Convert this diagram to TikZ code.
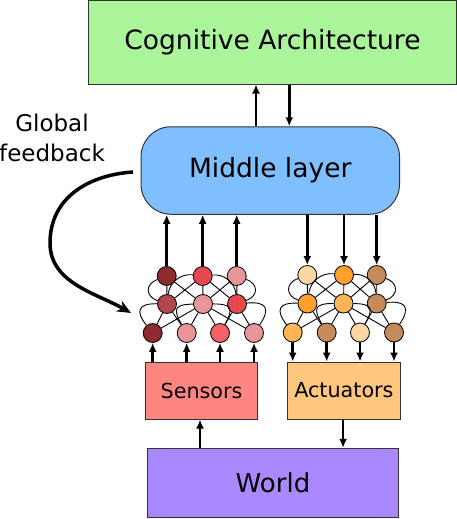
\documentclass[tikz,border=0pt]{standalone}
\usepackage{fontspec}
\setmainfont{DejaVu Sans}
\usetikzlibrary{arrows.meta}
\definecolor{cogfill}{RGB}{170,245,153}
\definecolor{midfill}{RGB}{128,191,255}
\definecolor{sensfill}{RGB}{255,134,128}
\definecolor{actfill}{RGB}{255,198,128}
\definecolor{worldfill}{RGB}{170,136,255}
\definecolor{redA}{RGB}{141,43,47}
\definecolor{redB}{RGB}{178,72,76}
\definecolor{redC}{RGB}{229,72,77}
\definecolor{redD}{RGB}{232,150,154}
\definecolor{redE}{RGB}{246,96,104}
\definecolor{orA}{RGB}{253,214,166}
\definecolor{orB}{RGB}{255,160,44}
\definecolor{orC}{RGB}{198,139,90}
\definecolor{orD}{RGB}{253,181,88}
\tikzstyle{block}=[draw=black!80, line width=1pt, inner sep=0pt]
\tikzstyle{neuron}=[circle, draw, line width=0.8pt, minimum size=19pt, inner sep=0pt]
\tikzstyle{link}=[-{Latex[length=9pt,width=8pt]}, line width=2.8pt]
\tikzstyle{wire}=[line width=0.9pt]

\begin{document}
\begin{tikzpicture}[x=1pt, y=-1pt]
\useasboundingbox (0,0) rectangle (457,519);
% boxes
\draw (272.5,42.25) node[block, fill=cogfill, minimum width=368pt, minimum height=83.5pt, font=\fontsize{26.5}{30}\selectfont] (cog) {Cognitive Architecture};
\draw (270.25,170.5) node[block, fill=midfill, rounded corners=30pt, minimum width=258.5pt, minimum height=87.5pt, font=\fontsize{26.5}{30}\selectfont] (mid) {Middle layer};
\draw (201.5,390.5) node[block, fill=sensfill, minimum width=112.4pt, minimum height=57pt, font=\fontsize{20.7}{24}\selectfont] (sens) {Sensors};
\draw (343.85,390.5) node[block, fill=actfill, minimum width=112.3pt, minimum height=57pt, font=\fontsize{20.7}{24}\selectfont] (act) {Actuators};
\draw (273,483) node[block, fill=worldfill, minimum width=251.4pt, minimum height=69.4pt, font=\fontsize{26}{30}\selectfont] (world) {World};
\draw (52,138) node[align=center, inner sep=0pt, font=\fontsize{23}{29.7}\selectfont] (fb) {Global\\feedback};

% sensor network
\draw (166.7,276) node[neuron, fill=redA] (S11) {};
\draw (202.7,276) node[neuron, fill=redC] (S12) {};
\draw (236.7,276) node[neuron, fill=redD] (S13) {};
\draw (167,304) node[neuron, fill=redB] (S21) {};
\draw (203,304) node[neuron, fill=redD] (S22) {};
\draw (237,304) node[neuron, fill=redC] (S23) {};
\draw (152.7,333) node[neuron, fill=redA] (S31) {};
\draw (186.7,333) node[neuron, fill=redD] (S32) {};
\draw (220,333) node[neuron, fill=redE] (S33) {};
\draw (254,333) node[neuron, fill=redD] (S34) {};

% actuator network
\draw (307.3,275) node[neuron, fill=orA] (A11) {};
\draw (344,275) node[neuron, fill=orB] (A12) {};
\draw (376.7,275) node[neuron, fill=orC] (A13) {};
\draw (307.5,303.5) node[neuron, fill=orB] (A21) {};
\draw (343.5,303.5) node[neuron, fill=orD] (A22) {};
\draw (376.7,303.5) node[neuron, fill=orC] (A23) {};
\draw (292.7,332.5) node[neuron, fill=orD] (A31) {};
\draw (326.7,332.5) node[neuron, fill=orC] (A32) {};
\draw (360,332.5) node[neuron, fill=orA] (A33) {};
\draw (394,332.5) node[neuron, fill=orC] (A34) {};

% wiring inside the networks
\draw[wire] (S11) -- (S21) (S11) -- (S22) (S12) -- (S21) (S12) -- (S22) (S12) -- (S23) (S13) -- (S22) (S13) -- (S23);
\draw[wire] (S11) to[bend right=70, looseness=1.6] (S21) (S12) to[bend right=45] (S21) (S12) to[bend left=45] (S23) (S13) to[bend left=70, looseness=1.6] (S23);
\draw[wire] (S21) -- (S31) (S21) -- (S32) (S22) -- (S31) (S22) -- (S32) (S22) -- (S33) (S22) -- (S34) (S23) -- (S33) (S23) -- (S34);
\draw[wire] (S21) to[bend right=65, looseness=2] (S31) (S22) to[bend right=60, looseness=2] (S32) (S22) to[bend left=60, looseness=2] (S33) (S23) to[bend left=65, looseness=2] (S34);
\draw[wire] (A11) -- (A21) (A11) -- (A22) (A12) -- (A21) (A12) -- (A22) (A12) -- (A23) (A13) -- (A22) (A13) -- (A23);
\draw[wire] (A11) to[bend right=70, looseness=1.6] (A21) (A12) to[bend right=45] (A21) (A12) to[bend left=45] (A23) (A13) to[bend left=70, looseness=1.6] (A23);
\draw[wire] (A21) -- (A31) (A21) -- (A32) (A22) -- (A31) (A22) -- (A32) (A22) -- (A33) (A22) -- (A34) (A23) -- (A33) (A23) -- (A34);
\draw[wire] (A21) to[bend right=65, looseness=2] (A31) (A22) to[bend right=60, looseness=2] (A32) (A22) to[bend left=60, looseness=2] (A33) (A23) to[bend left=65, looseness=2] (A34);

% arrows between the layers
\draw[link] ([xshift=-14.25pt]mid.north) -- ([xshift=-14.25pt]mid.north |- cog.south);
\draw[link] ([xshift=19pt]mid.north |- cog.south) -- ([xshift=19pt]mid.north);
\draw[link] (S11) -- (S11 |- mid.south);
\draw[link] (S12) -- (S12 |- mid.south);
\draw[link] (S13) -- (S13 |- mid.south);
\draw[link] (A11 |- mid.south) -- (A11);
\draw[link] (A12 |- mid.south) -- (A12);
\draw[link] (A13 |- mid.south) -- (A13);
\draw[link] (S31 |- sens.north) -- (S31);
\draw[link] (S32 |- sens.north) -- (S32);
\draw[link] (S33 |- sens.north) -- (S33);
\draw[link] (S34 |- sens.north) -- (S34);
\draw[link] (A31) -- (A31 |- act.north);
\draw[link] (A32) -- (A32 |- act.north);
\draw[link] (A33) -- (A33 |- act.north);
\draw[link] (A34) -- (A34 |- act.north);
\draw[link] ([xshift=-1.5pt]sens.south |- world.north) -- ([xshift=-1.5pt]sens.south);
\draw[link] ([xshift=-0.8pt]act.south) -- ([xshift=-0.8pt]act.south |- world.north);

% global feedback
\coordinate (fbstart) at (133,172);
\coordinate (fbend) at (131,313);
\draw[-{Stealth[length=14pt,width=12pt]}, line width=3.5pt] (fbstart) .. controls (88,175) and (50,198) .. (50,243) .. controls (50,283) and (96,293) .. (fbend);
\end{tikzpicture}
\end{document}
